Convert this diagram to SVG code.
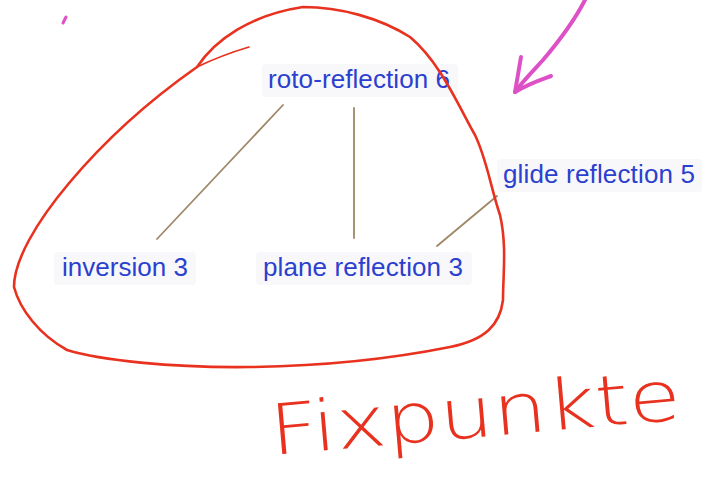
<svg xmlns="http://www.w3.org/2000/svg" width="712" height="499" viewBox="0 0 712 499">
  <style>
    .lbl { font-family: "Liberation Sans", Arial, sans-serif; font-size: 26px; fill: #2b40cf; }
    .halo { fill: #f8f8fb; }
    .conn { stroke: #9f8767; stroke-width: 1.8; fill: none; stroke-linecap: round; }
    .ink-red { stroke: #e8321f; fill: none; stroke-linecap: round; stroke-linejoin: round; }
    .ink-pink { stroke: #de50c6; fill: none; stroke-linecap: round; stroke-linejoin: round; }
    .hand { font-family: "DejaVu Sans", "Liberation Sans", sans-serif; font-weight: 200; font-size: 70px; fill: #e8321f; }
  </style>
  <rect width="712" height="499" fill="#ffffff"/>

  <g id="connectors">
    <line class="conn" x1="283" y1="105" x2="157" y2="239"/>
    <line class="conn" x1="354" y1="108" x2="354" y2="238"/>
    <line class="conn" x1="497" y1="196" x2="437" y2="246"/>
  </g>

  <g id="node-roto-reflection">
    <rect class="halo" x="262" y="64" width="196" height="33" rx="4"/>
    <text class="lbl" x="268" y="88" textLength="182">roto-reflection 6</text>
  </g>
  <g id="node-glide-reflection">
    <rect class="halo" x="497" y="159" width="205" height="33" rx="4"/>
    <text class="lbl" x="503" y="183" textLength="192">glide reflection 5</text>
  </g>
  <g id="node-inversion">
    <rect class="halo" x="54" y="252" width="142" height="33" rx="4"/>
    <text class="lbl" x="62" y="276" textLength="126">inversion 3</text>
  </g>
  <g id="node-plane-reflection">
    <rect class="halo" x="256" y="252" width="216" height="33" rx="4"/>
    <text class="lbl" x="263" y="276" textLength="200">plane reflection 3</text>
  </g>

  <g id="annotations">
    <path class="ink-red" stroke-width="1.7" d="M249,47 Q222,55 197,67"/>
    <path class="ink-red" stroke-width="2.6" d="M197,67 C215,40 250,15 303,7 C340,7 380,18 410,37 C440,62 458,105 475,135 C487,160 490,185 500,215 C507,245 503,275 503,300 C500,325 485,340 450,347 C400,357 330,366 250,367 C170,368 100,360 67,350 C40,335 20,310 14,287 C14,235 100,135 197,67"/>
    <path class="ink-pink" stroke-width="4" d="M586,-2 C575,20 560,40 543,60 C532,72 522,82 515,92"/>
    <path class="ink-pink" stroke-width="4" d="M521,57 L515,92 C528,84 540,80 551,76"/>
    <path class="ink-pink" stroke-width="3" d="M63,23 L66,17"/>
    <text class="hand" x="272" y="455" textLength="412" lengthAdjust="spacingAndGlyphs" transform="rotate(-5 272 455)">Fixpunkte</text>
  </g>
</svg>
